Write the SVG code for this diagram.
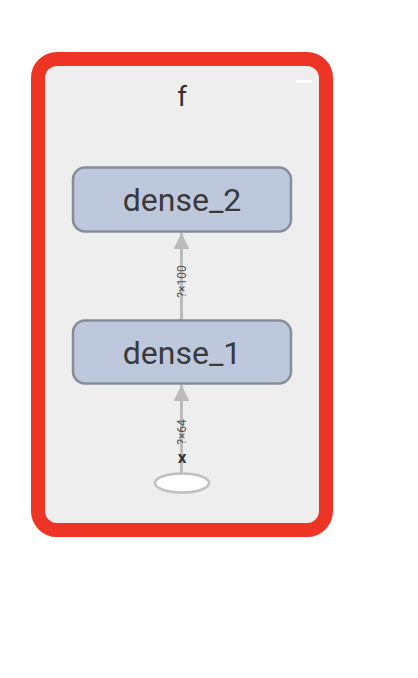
<svg xmlns="http://www.w3.org/2000/svg" width="418" height="678" viewBox="0 0 418 678">
<defs>
<style>
.node rect{fill:#bec8dd;stroke:#878c99;stroke-width:2.5}
.nlabel{font-family:Roboto,"Liberation Sans",sans-serif;font-size:32px;fill:#3a3a3a;text-anchor:middle}
.edge{stroke:#bbb;stroke-width:3;fill:none}
.elabel{font-family:Roboto,"Liberation Sans",sans-serif;font-size:12px;fill:#555;text-anchor:middle}
</style>
<marker id="arrow" viewBox="0 0 10 10" refX="10" refY="5" markerWidth="5.3" markerHeight="5.3" orient="auto" markerUnits="strokeWidth">
<path d="M0,0 L10,5 L0,10 z" fill="#bbb"/>
</marker>
</defs>
<rect width="418" height="678" fill="#fff"/>
<g id="f">
<rect x="38" y="59" width="288" height="471" rx="19" ry="19" fill="#eee" stroke="#ee3424" stroke-width="14"/>
<rect x="296" y="80" width="16" height="3" fill="#fff"/>
<text x="182" y="106" font-family="Roboto,'Liberation Sans',sans-serif" font-size="28" fill="#333" text-anchor="middle">f</text>
</g>
<g id="connectors">
<line class="edge" x1="181.5" y1="320" x2="181.5" y2="233" marker-end="url(#arrow)"/>
<text class="elabel" transform="translate(185.5,281.5) rotate(-90)">?×100</text>
<line class="edge" x1="181.5" y1="473" x2="181.5" y2="385" marker-end="url(#arrow)"/>
<text class="elabel" transform="translate(185.5,432) rotate(-90)">?×64</text>
</g>
<g id="dense_2" class="node">
<rect x="73" y="167.5" width="218" height="64" rx="12" ry="12"/>
<text class="nlabel" x="182" y="211">dense_2</text>
</g>
<g id="dense_1" class="node">
<rect x="73" y="320.5" width="218" height="63" rx="12" ry="12"/>
<text class="nlabel" x="182" y="364">dense_1</text>
</g>
<g id="x">
<ellipse cx="182" cy="483" rx="27" ry="9.5" fill="#fff" stroke="#c0c0c0" stroke-width="2.5"/>
<text x="182" y="463" font-family="Roboto,'Liberation Sans',sans-serif" font-size="17" font-weight="bold" fill="#333" text-anchor="middle">x</text>
</g>
</svg>
